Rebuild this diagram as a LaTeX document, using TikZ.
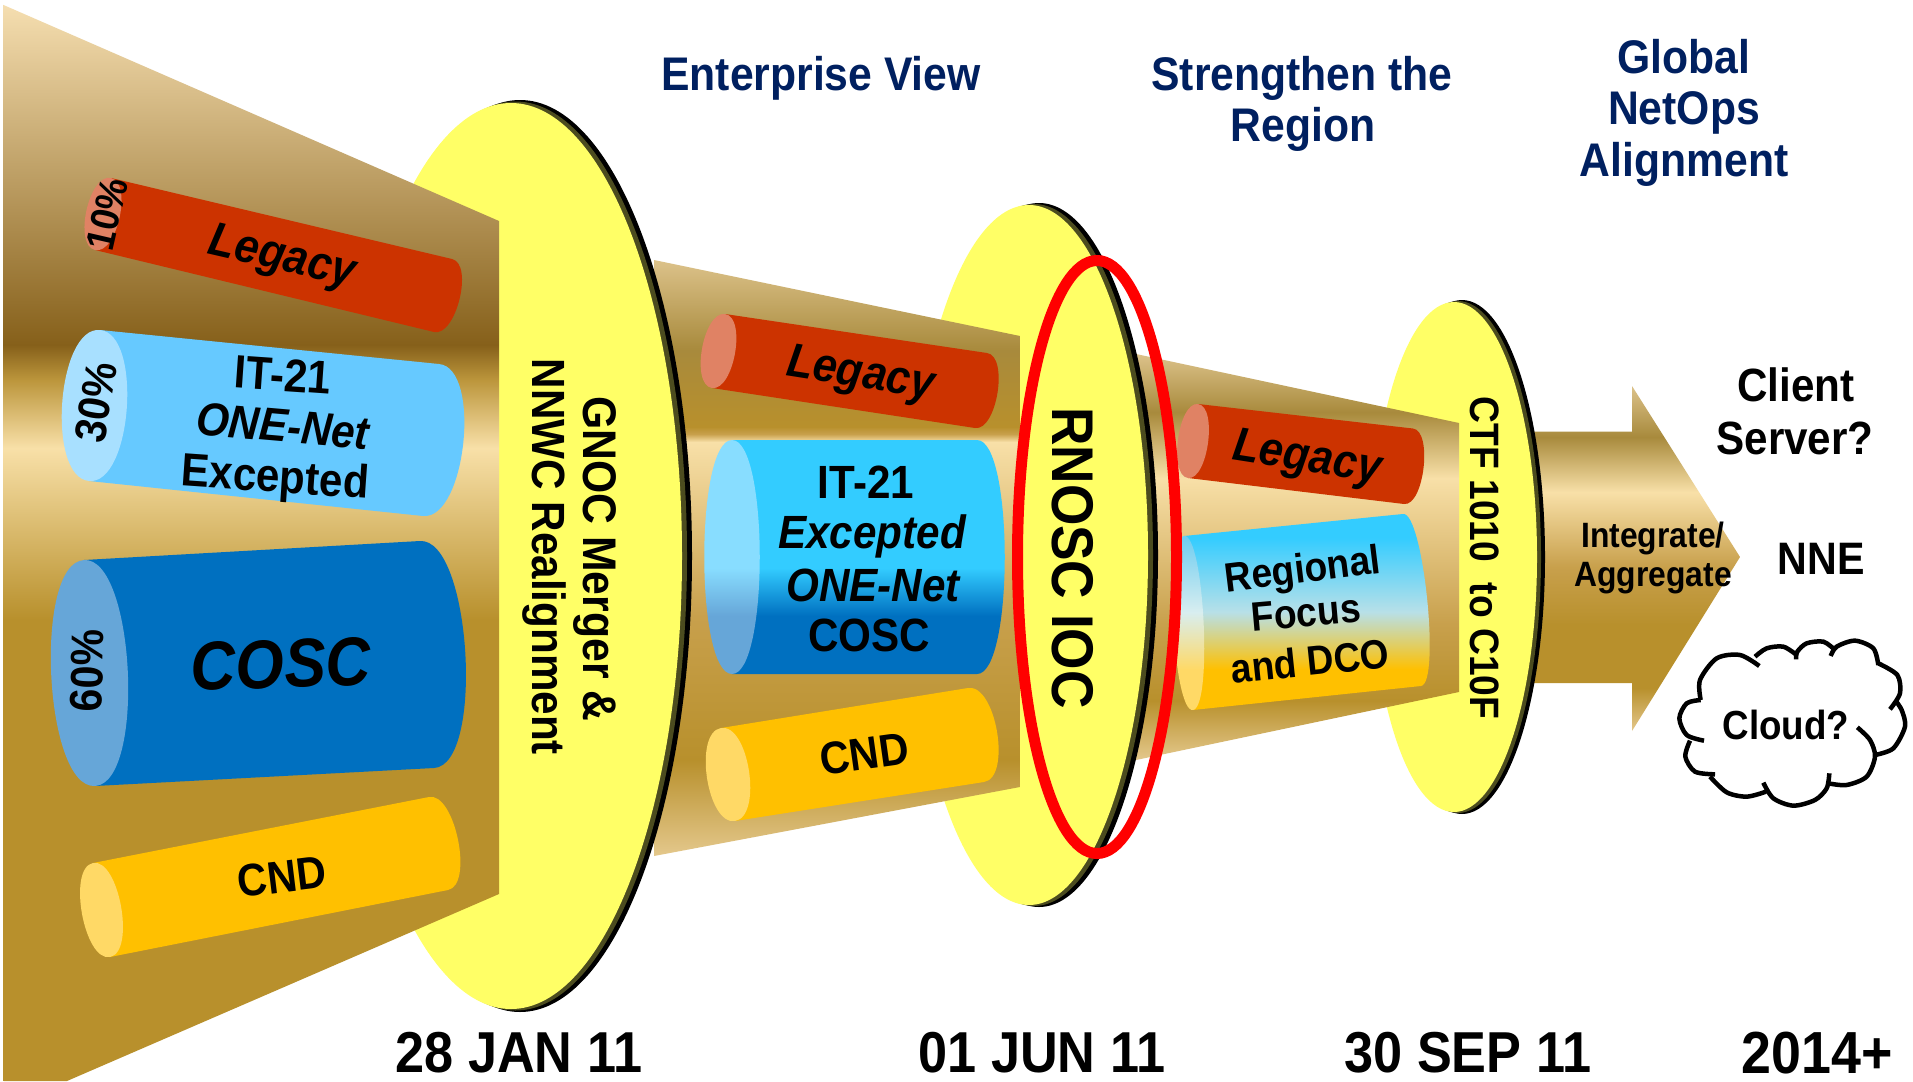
\documentclass[tikz,border=0pt]{standalone}
\usepackage{fontspec}
\setmainfont{Liberation Sans}[Scale=1.11, FakeStretch=0.905]
\usetikzlibrary{calc}
\definecolor{gGold}{HTML}{B8902C}
\definecolor{gLight}{HTML}{F8E0A8}
\definecolor{gDark}{HTML}{86601A}
\definecolor{gMid}{HTML}{BC963C}
\definecolor{gTop}{HTML}{F5DEB0}
\definecolor{gOlive}{HTML}{A88A3C}
\definecolor{gSoft}{HTML}{C8A04C}
\definecolor{gPale}{HTML}{E4C88C}
\definecolor{gTan}{HTML}{DCC28A}
\definecolor{ySkin}{HTML}{FFFF66}
\definecolor{navy}{HTML}{002060}
\definecolor{cRed}{HTML}{CC3300}
\definecolor{cRedCap}{HTML}{E08264}
\definecolor{cSky}{HTML}{66C9FF}
\definecolor{cSkyCap}{HTML}{A8E0FF}
\definecolor{cBlue}{HTML}{0070C0}
\definecolor{cBlueCap}{HTML}{66A6D8}
\definecolor{cAmb}{HTML}{FFC000}
\definecolor{cAmbCap}{HTML}{FFD966}
\definecolor{cCyan}{HTML}{33CCFF}
\definecolor{cCyanCap}{HTML}{88DDFF}
\definecolor{cIce}{HTML}{B8E0E8}
\definecolor{cIceCap}{HTML}{D8EEF0}
\definecolor{cTopCap}{HTML}{70CDF0}
\pgfdeclareverticalshading{funA}{100bp}{color(0bp)=(gGold); color(46.42bp)=(gGold); color(54.41bp)=(gLight); color(57.57bp)=(gMid); color(59.2bp)=(gDark); color(75bp)=(gTop); color(100bp)=(gTop)}
\pgfdeclareverticalshading{funB}{100bp}{color(0bp)=(gPale); color(25bp)=(gPale); color(33.05bp)=(gGold); color(45.13bp)=(gSoft); color(59.73bp)=(gLight); color(60.4bp)=(gSoft); color(61bp)=(gGold); color(67.45bp)=(gOlive); color(75bp)=(gTan); color(100bp)=(gTan)}
\pgfdeclareverticalshading{funC}{100bp}{color(0bp)=(gPale); color(25bp)=(gPale); color(32.3bp)=(gGold); color(41.75bp)=(gSoft); color(59.7bp)=(gLight); color(67.79bp)=(gOlive); color(75bp)=(gTan); color(100bp)=(gTan)}
\pgfdeclareverticalshading{funD}{100bp}{color(0bp)=(gPale); color(25bp)=(gPale); color(31.25bp)=(gGold); color(40.4bp)=(gGold); color(48.8bp)=(gSoft); color(59.6bp)=(gLight); color(67.6bp)=(gOlive); color(75bp)=(gTan); color(100bp)=(gTan)}
\pgfdeclareverticalshading{cylB}{100bp}{color(0bp)=(cBlue); color(37.4bp)=(cBlue); color(47.65bp)=(cCyan); color(100bp)=(cCyan)}
\pgfdeclareverticalshading{cylBcap}{100bp}{color(0bp)=(cBlueCap); color(37.4bp)=(cBlueCap); color(47.65bp)=(cCyanCap); color(100bp)=(cCyanCap)}
\pgfdeclareverticalshading{cylC}{100bp}{color(0bp)=(cAmb); color(35.2bp)=(cAmb); color(49.6bp)=(cIce); color(68.3bp)=(cCyan); color(100bp)=(cCyan)}
\pgfdeclareverticalshading{cylCcap}{100bp}{color(0bp)=(cAmbCap); color(37.1bp)=(cAmbCap); color(53bp)=(cIceCap); color(73.6bp)=(cTopCap); color(100bp)=(cTopCap)}
% body style, cap style, TL, BL, TR, BR, bulge
\newcommand{\cyl}[7]{%
  \path[#1] #3 -- #5 .. controls ($#5+#7$) and ($#6+#7$) .. #6 -- #4 -- cycle;
  \path[#2] #3 .. controls ($#3+#7$) and ($#4+#7$) .. #4 .. controls ($#4-#7$) and ($#3-#7$) .. #3 -- cycle;}
% disc: black cx, cy, a, b, yellow cx, a, b
\newcommand{\disc}[7]{%
  \fill[black] (#1,#2) ellipse [x radius=#3, y radius=#4];
  \fill[ySkin!30!black] ({(#1+#5)/2},#2) ellipse [x radius={(#3+#6)/2}, y radius={(#4+#7)/2}];
  \fill[ySkin] (#5,#2) ellipse [x radius=#6, y radius=#7];}
\tikzset{
  lab/.style={font=\fontsize{#1}{#1}\selectfont\bfseries, inner sep=0pt, outer sep=0pt, text=black},
  ttl/.style={lab=#1, text=navy},
  ita/.style={lab=#1, font=\fontsize{#1}{#1}\selectfont\bfseries\itshape},
  shaded/.style={shade, shading=#1}
}
\begin{document}
\begin{tikzpicture}[x=1pt,y=-1pt]
\useasboundingbox (0,0) rectangle (1913,1081);
\fill[white] (0,0) rectangle (1913,1081);
% arrow
\path[shaded=funD] (1530,431.5) -- (1632,431.5) -- (1632,386) -- (1740,557) -- (1632,731) -- (1632,683) -- (1530,683) -- cycle;
% stage 3
\disc{1462}{557}{83}{257}{1454}{83}{255}
\path[shaded=funC] (1136,354) -- (1459,423) -- (1459,692) -- (1136,760) -- cycle;
\cyl{fill=cRed}{fill=cRedCap}{(1198,404)}{(1188,478)}{(1413,428.5)}{(1404,504)}{(20,2.4)}
\cyl{shaded=cylC}{shaded=cylCcap}{(1184,536)}{(1193,710)}{(1403,514)}{(1421,686)}{(20,-3)}
% stage 2
\disc{1039}{555}{119}{352}{1029}{119}{350}
\path[shaded=funB] (654,260) -- (1020,336) -- (1020,787) -- (654,856) -- cycle;
\cyl{fill=cRed}{fill=cRedCap}{(725,314)}{(712,388)}{(987,353)}{(975,428)}{(22,3)}
\cyl{shaded=cylB}{shaded=cylBcap}{(732,440)}{(732,674)}{(977,440)}{(977,674)}{(37,0)}
\cyl{fill=cAmb}{fill=cAmbCap}{(721,728)}{(735,821)}{(968,688)}{(984,782)}{(28,-4.5)}
% stage 1
\disc{520}{556}{172}{456}{511}{171}{453}
\path[shaded=funA] (3.5,5) -- (499,221) -- (499,894) -- (67,1081) -- (3.5,1081) -- cycle;
\cyl{fill=cRed}{fill=cRedCap}{(111,178)}{(95,250)}{(452,259)}{(434,332)}{(22,5)}
\cyl{fill=cSky}{fill=cSkyCap}{(100,330)}{(89,481)}{(439,364)}{(423,516)}{(43,4)}
\cyl{fill=cBlue}{fill=cBlueCap}{(84,560)}{(95,786)}{(420,541)}{(434,768)}{(51,-3)}
\cyl{fill=cAmb}{fill=cAmbCap}{(93,863)}{(110,957)}{(429,797)}{(448,890)}{(26,-5)}
% red ring
\draw[red, line width=11pt] (1097,557) ellipse [x radius=79.5, y radius=296.5];
% stage 1 text
\node[lab=36, rotate=77] (p10) at (107,214) {10\%};
\node[lab=40, rotate=80] (p30) at (96,402) {30\%};
\node[lab=41, rotate=88] (p60) at (87,671) {60\%};
\node[ita=43, rotate=-13] (leg1) at (282,259) {Legacy};
\node[lab=42, rotate=-4] (it1) at (283,375) {IT-21};
\node[ita=42, rotate=-5] (one1) at (283,426) {ONE-Net};
\node[lab=42, rotate=-4] (exc1) at (275,480) {Excepted};
\node[ita=62, rotate=2] (cosc1) at (281,664) {COSC};
\node[lab=41, rotate=7] (cnd1) at (282,877) {CND};
\node[lab=42.5, rotate=-90] (gnoc) at (595,559) {GNOC Merger \&};
\node[lab=42, rotate=-90] (nnwc) at (544,557) {NNWC Realignment};
% stage 2 text
\node[ita=43, rotate=-9] (leg2) at (860.5,376) {Legacy};
\node[lab=42] (it2) at (866,482) {IT-21};
\node[ita=42] (exc2) at (872,536) {Excepted};
\node[ita=42] (one2) at (873,585) {ONE-Net};
\node[lab=42] (cosc2) at (869,635) {COSC};
\node[lab=41, rotate=8] (cnd2) at (864.5,754) {CND};
\node[lab=53, rotate=-90] (rnosc) at (1073,558) {RNOSC IOC};
% stage 3 text
\node[ita=43, rotate=-9] (leg3) at (1307,460) {Legacy};
\node[lab=37, rotate=7] (reg) at (1303,572) {Regional};
\node[lab=37, rotate=5] (foc) at (1306,613) {Focus};
\node[lab=37, rotate=6] (dco) at (1310,661) {and DCO};
\node[lab=37, rotate=-90] (ctf) at (1485,558) {CTF 1010 \ to C10F};
% arrow text
\node[lab=31.7] (intg) at (1653,538) {Integrate/};
\node[lab=31.7] (aggr) at (1653,578) {Aggregate};
% right column
\node[lab=42] (client) at (1796,385) {Client};
\node[lab=42] (server) at (1795,438) {Server?};
\node[lab=41] (nne) at (1821,559) {NNE};
\begin{scope}[shift={(1660,620)}, x=0.3333pt, y=-0.3333pt, line width=4.5pt, black]
\draw plot[smooth] coordinates {(122,240) (80,250) (58,295) (80,345) (132,362)};
\draw plot[smooth] coordinates {(90,362) (76,410) (105,455) (165,463)};
\draw plot[smooth] coordinates {(150,470) (200,517) (260,530) (318,515)};
\draw plot[smooth] coordinates {(310,488) (340,535) (400,557) (465,540) (500,505) (508,460)};
\draw plot[smooth] coordinates {(505,490) (560,495) (620,470) (645,410) (630,360) (592,322)};
\draw plot[smooth] coordinates {(645,405) (700,385) (735,320) (725,270) (705,240)};
\draw plot[smooth] coordinates {(690,268) (720,220) (712,165) (655,130)};
\draw plot[smooth] coordinates {(655,135) (640,85) (585,62) (530,80) (512,108)};
\draw plot[smooth] coordinates {(525,90) (490,65) (440,70) (412,95) (408,118)};
\draw plot[smooth] coordinates {(410,105) (370,80) (320,85) (285,110)};
\draw plot[smooth] coordinates {(298,138) (240,105) (170,115) (120,180) (122,240)};
\end{scope}
\node[lab=36.6] (cloud) at (1786,725) {Cloud?};
% titles
\node[ttl=42.5] (t1) at (821,78) {Enterprise View};
\node[ttl=42.5] (t2a) at (1302,78) {Strengthen the};
\node[ttl=42.5] (t2b) at (1303,129) {Region};
\node[ttl=42.5] (t3a) at (1684,57) {Global};
\node[ttl=42.5] (t3b) at (1684,113) {NetOps};
\node[ttl=42.5] (t3c) at (1684,164) {Alignment};
% dates
\node[lab=52] (d1) at (519,1053) {28 JAN 11};
\node[lab=52] (d2) at (1042,1053) {01 JUN 11};
\node[lab=52] (d3) at (1468,1053) {30 SEP 11};
\node[lab=53.5] (d4) at (1817,1053) {2014+};
\end{tikzpicture}
\end{document}
